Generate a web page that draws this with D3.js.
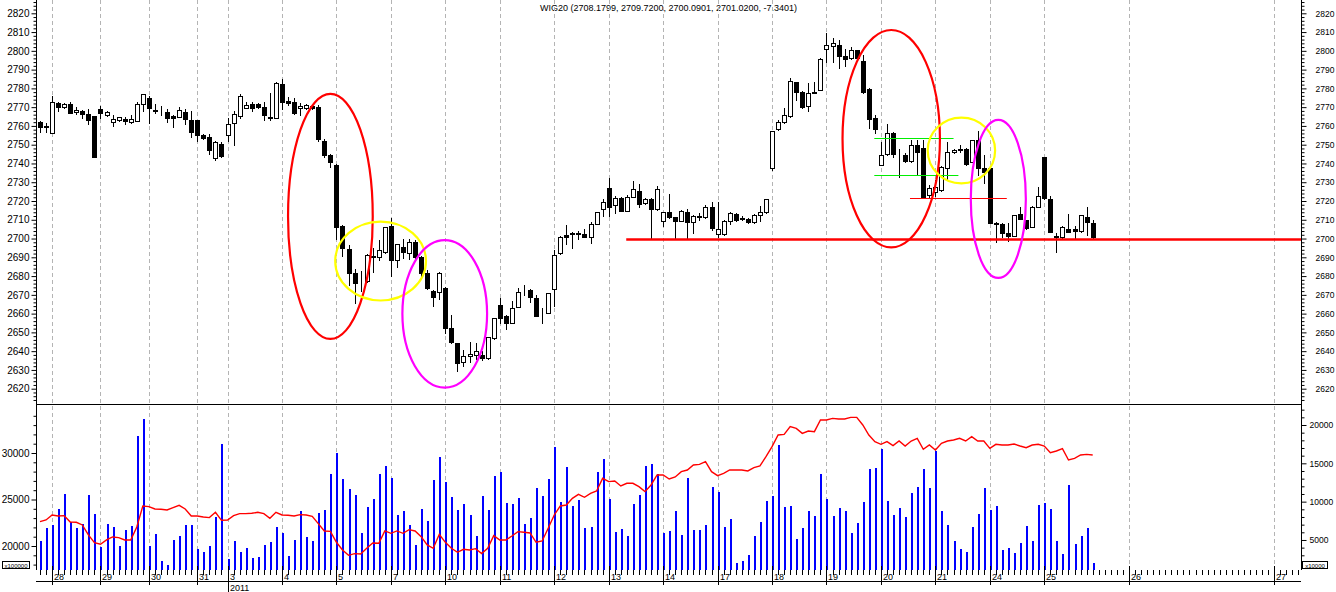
<!DOCTYPE html>
<html><head><meta charset="utf-8">
<script src="https://cdn.jsdelivr.net/npm/d3@7"></script>
<style>
body{margin:0;background:#fff}
svg{display:block}
text{font-family:Arial,"Liberation Sans",sans-serif;fill:#000}
</style></head>
<body><svg id="chart" width="1336" height="592"></svg>
<script>
const titleText = "WIG20 (2708.1799, 2709.7200, 2700.0901, 2701.0200, -7.3401)";

const open = [2762.2,2759.6,2756.1,2772,2770,2771.8,2767.3,2768,2766.5,2765.3,
2769,2766,2762.3,2763,2763.5,2762,2762.8,2771.7,2774.7,2768.5,
2767.5,2767.6,2765.5,2764.8,2767.6,2763.2,2762.9,2755.2,2754,2742.9,
2750.4,2755.2,2761.5,2765.5,2769.8,2771.6,2771.5,2770.3,2764.5,2764.4,
2782.3,2773.3,2772.5,2769.4,2769.4,2770.5,2770,2752,2744.5,2739.2,
2706.7,2694.3,2681.5,2677.4,2677.4,2690.3,2690,2692.7,2706.8,2688.6,
2695.7,2692.2,2698,2690,2681.5,2672.2,2671.4,2673.5,2652.2,2644.2,
2634,2637.3,2638,2638,2636.2,2646.9,2664.6,2658.7,2655.2,2663.7,
2672.6,2672.6,2668.2,2660.2,2660.5,2673.1,2692.1,2701.9,2703.1,2703.1,
2702.4,2701,2707.7,2715.7,2726.8,2717.7,2721.4,2714.8,2722.3,2725.3,
2718.8,2721,2715.6,2709.5,2714,2711.3,2709.5,2714,2709,2711.4,
2711.3,2716.6,2702.4,2702.3,2709.4,2712.9,2710.6,2710.4,2708.8,2712.6,
2714,2737.7,2758.4,2761.9,2765.4,2783.2,2777.9,2770.6,2778.3,2779.1,
2801,2802.7,2803.1,2797.4,2796,2800.4,2794.7,2779.7,2764.1,2739.2,
2744.9,2756.4,2745.4,2744.5,2741.3,2749.8,2748.4,2723.2,2725,2726,
2737.4,2746,2747.4,2747.7,2741,2752.5,2737.4,2737.7,2708.4,2708,
2702.8,2701.5,2712.9,2709.9,2706.3,2716.9,2743.3,2720.9,2701.5,2701,
2704.9,2705,2704,2711.3,2708.18];

const high = [2762.5,2761.5,2775.9,2772.7,2772,2772.5,2770,2768.5,2769,2765.5,
2770.5,2768,2765.6,2765,2765,2766,2772.5,2777,2776,2771.5,
2770.5,2768.9,2766,2770.2,2769,2768,2763.2,2755.8,2755.8,2752.2,
2751.3,2764,2767.8,2776.9,2772.5,2772.5,2772,2772.5,2777.6,2783.5,
2785,2775.5,2774.8,2772.2,2771.5,2771,2771,2753,2745,2739.5,
2707,2696.5,2684,2682.5,2691.5,2694.8,2699.2,2706.3,2710.8,2697,
2700,2700,2699,2690.5,2683,2672.8,2682,2674,2659.4,2644.5,
2640.8,2645,2644.5,2640,2647.6,2657.7,2668.2,2659,2666.5,2673.5,
2675.3,2673,2670,2663,2671,2693.8,2701.2,2707.3,2703.3,2704,
2705,2708.6,2714.2,2721.2,2732.1,2722.6,2722,2723,2730.5,2729,
2721.5,2721.5,2727.9,2714.2,2723.8,2711.5,2715,2716,2712.3,2713.6,
2718,2719.3,2719.3,2710,2714.4,2713.5,2711.8,2711,2713,2717.1,
2721.2,2757.5,2763,2769.3,2785.6,2783.5,2778.5,2782.7,2783.5,2796,
2809.4,2806.8,2806,2801,2801.8,2800.6,2798,2780,2765.8,2751.6,
2761,2757,2747.7,2745.5,2752.6,2752.3,2752.6,2728.6,2731,2738.5,
2751.6,2747.8,2750,2748,2752.7,2757.2,2744.5,2738,2709,2708.5,
2708.2,2712.8,2716.6,2710.1,2717.2,2727.5,2743.5,2722.7,2702.8,2706.5,
2713,2706.5,2712.7,2716.6,2709.72];

const low = [2757,2757,2756,2768,2769.5,2767,2766.5,2764,2761,2743.6,
2764,2765.5,2760,2762.5,2761,2761.5,2762.5,2768,2761.7,2767,
2766,2762,2759.4,2764.5,2761,2754,2751.7,2753,2745,2741.9,
2743.3,2751.7,2750,2764,2769.4,2768,2769.8,2763,2763,2764.2,
2769,2771,2766.5,2766,2769,2769,2752,2743.5,2738,2700,
2690.8,2675,2665.5,2671.9,2677,2682,2688.6,2692.5,2680,2685,
2689.5,2689,2688.5,2680,2673,2664,2668,2649.7,2644.5,2629.6,
2632,2634,2636,2635.5,2636,2646.5,2654.9,2651.6,2655,2663.5,
2669.8,2666.4,2658.9,2655,2660.3,2664,2692,2697,2695,2699.8,
2701,2697.5,2707.5,2711.8,2711.8,2713.6,2714.5,2714.5,2722,2717,
2718.5,2700.4,2715.3,2706.5,2711,2700,2709.2,2700.4,2703,2710,
2711,2704.7,2700.6,2702,2707.7,2709.5,2709.8,2708.5,2708.5,2709.5,
2713.8,2736.5,2758,2761.5,2765,2773.7,2769.8,2768,2777.5,2779,
2794,2794,2791,2792,2795.8,2795.8,2777.7,2759,2756,2739,
2744.7,2743.5,2732.8,2741,2741,2734,2722,2722,2722.5,2725.5,
2731.8,2745.5,2746,2739.3,2740.8,2733.7,2729.6,2708.2,2698.4,2700.6,
2698.7,2701.2,2710.2,2705.2,2706.1,2716.7,2721.2,2703.4,2692.6,2700,
2703.4,2700,2703.5,2702,2700.09];

const close = [2759.6,2759.8,2772.6,2770.2,2771.6,2767,2768.5,2766.5,2763,2743.6,
2766.7,2767.5,2763.7,2764.5,2762.5,2763.5,2771.5,2776.9,2769.4,2768,
2767.6,2764.4,2764.3,2768.5,2763.5,2756.6,2755.2,2753.4,2747.4,2751.3,
2744.2,2761.1,2766.5,2775.7,2771.2,2769.8,2770.3,2765.8,2764,2783,
2772.9,2772,2767,2770.7,2771.2,2769.4,2753,2744.5,2741,2706.3,
2694.8,2681.8,2676.5,2677.2,2691.2,2690.5,2693.9,2706,2688.6,2696.9,
2692.7,2698,2690,2681.5,2673.5,2669,2681.8,2652.5,2644.7,2633.5,
2637.4,2638.5,2640,2636.3,2647.4,2657.5,2657.8,2655.2,2662.8,2671.4,
2672.8,2669,2658.9,2660.4,2670.8,2691,2701,2701,2702.3,2702.4,
2701,2707.7,2714,2719.6,2717,2721.8,2714.8,2722,2726.2,2718.2,
2721,2715.6,2726.2,2714,2711.3,2709.5,2714.8,2709,2712.1,2711.8,
2716.6,2705.4,2704.9,2709.3,2713.5,2709.9,2710.8,2708.8,2712.8,2714,
2720.9,2757.3,2762.3,2765.8,2783.9,2778.2,2770.2,2777.4,2777.8,2795.5,
2803.1,2804,2797.4,2795.8,2800.4,2796,2777.9,2763.5,2758.2,2744.5,
2756,2744.9,2745.5,2741.3,2749.8,2746.3,2722.3,2726.8,2727.5,2738,
2746.3,2747.2,2747.6,2739.5,2752.5,2737.4,2735.7,2708.4,2707.6,2702.8,
2701.5,2712.5,2710.4,2705.4,2717,2722.8,2721.4,2703.6,2700.6,2706.3,
2703.6,2703.8,2712.5,2708.6,2701.02];

const volume = [4864,6600,6950,9037,10993,7381,6600,7081,10862,8424,
4082,7081,6690,4212,6298,6820,18556,20773,4212,5777,
2295,1734,4994,5516,6950,6950,3860,3430,4212,7994,
17513,2517,4864,3430,3951,2647,2778,4342,4733,6690,
5907,2908,4994,8776,5386,4864,8515,8906,13601,16339,
12949,11645,10862,5907,9298,10341,13601,14644,13079,8254,
8776,6950,4342,9037,7472,12818,15818,12557,10602,8906,
9689,8254,5516,10732,8906,13340,13862,9819,9689,10471,
7081,7863,11775,10732,12949,17122,9950,14514,9428,10210,
6559,6690,13862,15557,10341,6038,6429,5516,9689,10862,
14644,14905,13601,5907,6168,8776,5646,13079,6298,6298,
6950,11906,11254,6690,7733,1995,2256,3038,5516,7342,
10080,10732,17382,9298,9428,5125,6559,8776,8124,13601,
10341,8124,9167,8776,5907,7211,9950,14253,14383,16861,
10080,8254,9167,7994,11123,11906,14253,11775,16600,8776,
6950,4864,3821,3430,6690,8385,11775,8906,9428,3690,
3951,3299,4603,6820,4864,9558,9819,9037,4864,3169,
12166,4473,5516,6559,1995];

const indicator = [22619,22799,23336,23228,23264,22584,22548,22261,21186,20362,
20183,20649,20972,20900,20649,20649,22046,24303,24232,23981,
23945,23874,24124,24375,23981,23228,23228,23121,23049,23623,
22763,22799,23264,23479,23479,23515,23623,23479,22978,23623,
23336,23300,23228,23372,23336,23193,22405,21616,21580,20398,
19574,19000,19180,19144,19753,20327,20291,21616,21365,21616,
21365,21760,21616,21007,20111,19753,21258,20398,19753,19323,
19646,19574,19717,19180,19753,21114,20649,20649,21079,21545,
21473,21401,20398,20541,21903,23336,24303,24411,25127,25558,
25235,25665,25916,27277,26919,26991,26453,26740,26740,26382,
25844,26561,27635,27635,27206,27421,27994,28173,28711,28782,
29069,27994,27564,27815,28173,28173,28173,28066,28424,28603,
29606,30681,31935,32007,32831,32652,32115,32365,32294,33548,
33548,33727,33655,33655,33834,33834,33010,31935,31219,30932,
31219,30789,31290,30753,31290,31577,30395,30860,30323,31040,
31290,31398,31577,31290,31756,31290,31290,30502,30932,30860,
30860,30968,30753,30574,30860,30932,30753,30036,30215,30466,
29248,29427,29785,29857,29785];

// day labels and the bar index at which each day starts
const dayLabels = ["28","29","30","31","3","4","5","7","10","11","12","13","14","17","18","19","20","21","24","25","26","27"];
const dayStarts = [2,10,18,26,31,40,49,58,67,76,85,94,103,112,121,130,139,148,157,166,180,204];
const yearLabel = "2011";
const yearStart = 31;
const lastSlot = 208;

const priceTicks = d3.range(2620, 2821, 10);
const leftLowerTicks = [20000, 25000, 30000];
const rightLowerTicks = [5000, 10000, 15000, 20000];

// hand-drawn annotations (bar index / price units)
const ellipseCx = [48.0, 56.3, 66.9, 140.7, 152.3, 158.4];
const ellipseCy = [2711.8, 2688.0, 2659.9, 2753.2, 2746.9, 2721.1];
const ellipseRx = [7.0, 7.5, 7.0, 8.05, 5.57, 4.55];
const ellipseRy = [65.3, 21.0, 39.3, 57.9, 17.5, 42.1];
const levelPrice = [2700, 2753.4, 2733.7, 2721.8];
const levelFrom = [96.9, 137.9, 137.9, 143.8];
const levelTo = [208.43, 151.0, 151.8, 159.8];

// ---------- drawing ----------
const L = 36, R = 1301, sepY = 404, lowBot = 570, axisY = 581;
const ellipseColors = ["#ff0000", "#ffff00", "#ff00ff", "#ff0000", "#ffff00", "#ff00ff"];
const levelColors = ["#ff0000", "#00ee00", "#00ee00", "#ff0000"];
const levelWidths = [2.5, 1.2, 1.2, 1.2];

const svg = d3.select("#chart");
const x = d3.scaleLinear().domain([-0.66, 208.43]).range([L, R]);
const yP = d3.scaleLinear().domain([2620, 2820]).range([388.7, 13.3]);
const yV = d3.scaleLinear().domain([0, 20000]).range([578.3, 425]);
const yI = d3.scaleLinear().domain([20000, 30000]).range([546, 453]);
const px = i => Math.round(x(i));

const defs = svg.append("defs");
defs.append("clipPath").attr("id", "cu").append("rect").attr("x", L).attr("y", 0).attr("width", R - L).attr("height", sepY);
defs.append("clipPath").attr("id", "cl").append("rect").attr("x", L).attr("y", sepY).attr("width", R - L).attr("height", lowBot - sepY);

// title
svg.append("text").attr("x", (L + R) / 2).attr("y", 11).attr("text-anchor", "middle")
  .style("font-size", "9px").text(titleText);

// dashed day gridlines
svg.append("g").selectAll("line").data(dayStarts).join("line")
  .attr("x1", d => px(d) + 0.5).attr("x2", d => px(d) + 0.5)
  .attr("y1", 0).attr("y2", lowBot)
  .attr("stroke", "#b4b4b4").attr("stroke-dasharray", "4,3");

const idx = d3.range(open.length);

// candles
const cg = svg.append("g").attr("clip-path", "url(#cu)");
cg.selectAll("line").data(idx).join("line")
  .attr("x1", i => px(i) + 0.5).attr("x2", i => px(i) + 0.5)
  .attr("y1", i => Math.round(yP(high[i]))).attr("y2", i => Math.round(yP(low[i])) + 1)
  .attr("stroke", "#000");
cg.selectAll("rect").data(idx).join("rect")
  .attr("x", i => px(i) - 1.5).attr("width", 4)
  .attr("y", i => Math.round(yP(Math.max(open[i], close[i]))) + 0.5)
  .attr("height", i => Math.max(0, Math.round(yP(Math.min(open[i], close[i]))) - Math.round(yP(Math.max(open[i], close[i])))))
  .attr("fill", i => close[i] >= open[i] ? "#fff" : "#000")
  .attr("stroke", "#000");

// level lines
const lg = svg.append("g").attr("clip-path", "url(#cu)");
levelPrice.forEach((p, k) => {
  lg.append("line").attr("x1", x(levelFrom[k])).attr("x2", x(levelTo[k]))
    .attr("y1", Math.round(yP(p)) + 0.5).attr("y2", Math.round(yP(p)) + 0.5)
    .attr("stroke", levelColors[k]).attr("stroke-width", levelWidths[k]);
});

// ellipses
const eg = svg.append("g").attr("clip-path", "url(#cu)");
const barW = x(1) - x(0), ptH = yP(0) - yP(1);
ellipseCx.forEach((c, k) => {
  eg.append("ellipse").attr("cx", x(c)).attr("cy", yP(ellipseCy[k]))
    .attr("rx", ellipseRx[k] * barW).attr("ry", ellipseRy[k] * ptH)
    .attr("fill", "none").attr("stroke", ellipseColors[k]).attr("stroke-width", 2.2);
});

// volume bars
const vg = svg.append("g").attr("clip-path", "url(#cl)");
vg.selectAll("rect").data(idx).join("rect")
  .attr("x", i => px(i)).attr("width", 2)
  .attr("y", i => Math.round(yV(volume[i])))
  .attr("height", i => lowBot - Math.round(yV(volume[i])))
  .attr("fill", "#0000ff");

// indicator line
vg.append("path").datum(idx)
  .attr("d", d3.line().x(i => x(i)).y(i => yI(indicator[i])))
  .attr("fill", "none").attr("stroke", "#ff0000").attr("stroke-width", 1.4);

// frame lines
const fr = svg.append("g").attr("stroke", "#000").attr("shape-rendering", "crispEdges");
fr.append("line").attr("x1", L).attr("x2", R).attr("y1", sepY + 0.5).attr("y2", sepY + 0.5);
fr.append("line").attr("x1", L).attr("x2", R).attr("y1", axisY + 0.5).attr("y2", axisY + 0.5);
fr.append("line").attr("x1", L + 0.5).attr("x2", L + 0.5).attr("y1", 0).attr("y2", lowBot);
fr.append("line").attr("x1", R + 0.5).attr("x2", R + 0.5).attr("y1", 0).attr("y2", lowBot);

function styleAxis(g, fs) {
  g.select(".domain").remove();
  g.selectAll("text").style("font-size", fs).attr("fill", "#000");
  g.selectAll("line").attr("stroke", "#000");
  g.attr("font-family", null);
}
const minorPrice = d3.range(2614, 2828, 2).filter(v => v % 10 !== 0 && yP(v) > 1 && yP(v) < sepY);

// upper right axis
svg.append("g").attr("transform", `translate(${R + 0.5},0)`)
  .call(d3.axisRight(yP).tickValues(priceTicks).tickSize(5).tickPadding(9).tickFormat(d3.format("d")))
  .call(g => styleAxis(g, "8.5px"));
svg.append("g").attr("transform", `translate(${R + 0.5},0)`)
  .call(d3.axisRight(yP).tickValues(minorPrice).tickSize(3).tickFormat(""))
  .call(g => styleAxis(g, "8.5px"));
// upper left axis
svg.append("g").attr("transform", `translate(${L + 0.5},0)`)
  .call(d3.axisLeft(yP).tickValues(priceTicks).tickSize(5).tickPadding(2).tickFormat(d3.format("d")))
  .call(g => styleAxis(g, "10px"));
svg.append("g").attr("transform", `translate(${L + 0.5},0)`)
  .call(d3.axisLeft(yP).tickValues(minorPrice).tickSize(3).tickFormat(""))
  .call(g => styleAxis(g, "10px"));

// lower left axis (indicator)
const minorI = d3.range(17000, 36000, 1000).filter(v => v % 5000 !== 0 && yI(v) > sepY + 1 && yI(v) < lowBot - 3);
svg.append("g").attr("transform", `translate(${L + 0.5},0)`)
  .call(d3.axisLeft(yI).tickValues(leftLowerTicks).tickSize(5).tickPadding(2).tickFormat(d3.format("d")))
  .call(g => styleAxis(g, "10px"));
svg.append("g").attr("transform", `translate(${L + 0.5},0)`)
  .call(d3.axisLeft(yI).tickValues(minorI).tickSize(3).tickFormat(""))
  .call(g => styleAxis(g, "10px"));
// lower right axis (volume)
const minorV = d3.range(1000, 24000, 1000).filter(v => v % 5000 !== 0 && yV(v) > sepY + 1 && yV(v) < lowBot - 3);
svg.append("g").attr("transform", `translate(${R + 0.5},0)`)
  .call(d3.axisRight(yV).tickValues(rightLowerTicks).tickSize(5).tickPadding(3).tickFormat(d3.format("d")))
  .call(g => styleAxis(g, "8.5px"));
svg.append("g").attr("transform", `translate(${R + 0.5},0)`)
  .call(d3.axisRight(yV).tickValues(minorV).tickSize(3).tickFormat(""))
  .call(g => styleAxis(g, "8.5px"));

// unit boxes
function unitBox(x0, w, label) {
  svg.append("rect").attr("x", x0 + 0.5).attr("y", 561.5).attr("width", w).attr("height", 7)
    .attr("fill", "#fff").attr("stroke", "#000").attr("stroke-width", 1);
  svg.append("text").attr("x", x0 + w / 2 + 0.5).attr("y", 567.5).attr("text-anchor", "middle")
    .style("font-size", "6px").text(label);
}
unitBox(2, 27, "x100000");
unitBox(1302, 25, "x10000");

// bottom time axis: slot ticks
const slots = d3.range(0, lastSlot + 1);
svg.append("g").selectAll("line").data(slots).join("line")
  .attr("x1", i => px(i) + 0.5).attr("x2", i => px(i) + 0.5)
  .attr("y1", lowBot).attr("y2", 575).attr("stroke", "#000");
// day ticks + labels
const dg = svg.append("g");
dg.selectAll("line").data(dayStarts).join("line")
  .attr("x1", d => px(d) + 0.5).attr("x2", d => px(d) + 0.5)
  .attr("y1", 566).attr("y2", d => d === yearStart ? 592 : 585).attr("stroke", "#000");
dg.selectAll("text").data(dayLabels).join("text")
  .attr("x", (d, k) => px(dayStarts[k]) + 2).attr("y", 580)
  .style("font-size", "9px").text(d => d);
svg.append("text").attr("x", px(yearStart) + 2).attr("y", 591)
  .style("font-size", "9px").text(yearLabel);
</script>
</body></html>
